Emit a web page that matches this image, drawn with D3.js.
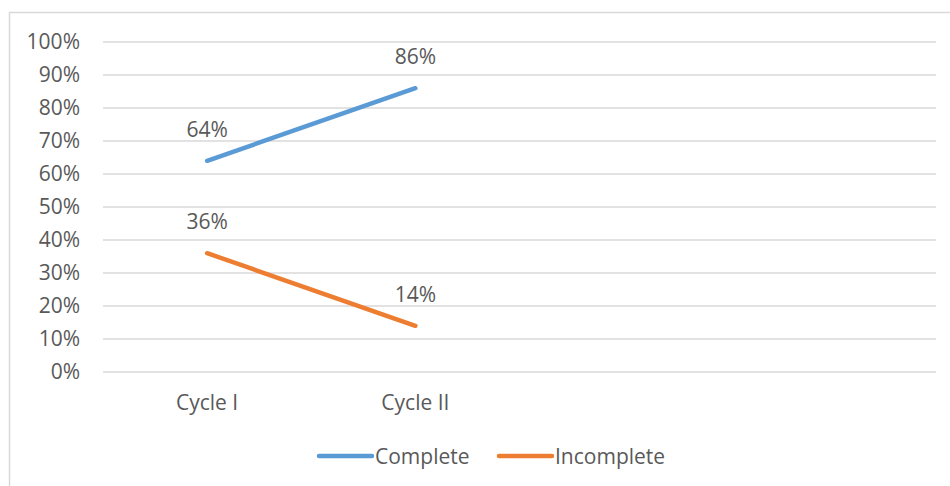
<!DOCTYPE html>
<html>
<head>
<meta charset="utf-8">
<script src="https://cdn.jsdelivr.net/npm/d3@7"></script>
<style>
  html, body { margin: 0; padding: 0; background: #fff; }
  svg { display: block; font-family: "Open Sans", sans-serif; }
</style>
</head>
<body>
<svg id="chart" width="950" height="486"></svg>
<script>
// Category slots along the x axis (the last two are empty)
const categories = ["Cycle I", "Cycle II", "", " "];
// Share of cases per cycle
const completeValues = [0.64, 0.86];
const incompleteValues = [0.36, 0.14];
const seriesNames = ["Complete", "Incomplete"];
const seriesColors = ["#5B9BD5", "#ED7D31"];
const yTicks = [0, 0.1, 0.2, 0.3, 0.4, 0.5, 0.6, 0.7, 0.8, 0.9, 1.0];

const series = [
  { name: seriesNames[0], color: seriesColors[0], values: completeValues },
  { name: seriesNames[1], color: seriesColors[1], values: incompleteValues }
];

const svg = d3.select("#chart");
const textColor = "#595959";
const fontSize = 21;

// Chart frame
svg.append("rect")
  .attr("x", 9.5).attr("y", 12.5)
  .attr("width", 960).attr("height", 500)
  .attr("fill", "#fff")
  .attr("stroke", "#D9D9D9").attr("stroke-width", 1.5);

const plot = { left: 103, right: 936, top: 42, bottom: 372 };

const x = d3.scaleBand()
  .domain(categories)
  .range([plot.left, plot.right]);

const y = d3.scaleLinear()
  .domain([0, 1])
  .range([plot.bottom, plot.top]);

// Horizontal gridlines
svg.append("g")
  .selectAll("line")
  .data(yTicks)
  .join("line")
  .attr("x1", plot.left).attr("x2", plot.right)
  .attr("y1", d => y(d)).attr("y2", d => y(d))
  .attr("stroke", "#D9D9D9").attr("stroke-width", 1.5);

// Y axis labels
const yAxis = d3.axisLeft(y)
  .tickValues(yTicks)
  .tickFormat(d3.format(".0%"))
  .tickSize(0)
  .tickPadding(0);

const yg = svg.append("g")
  .attr("transform", `translate(${plot.left - 23},0)`)
  .call(yAxis);
yg.select(".domain").remove();
yg.selectAll("text")
  .attr("fill", textColor)
  .style("font-size", fontSize + "px")
  .style("font-family", "Open Sans, sans-serif");

// X axis labels
const xAxis = d3.axisBottom(x).tickSize(0).tickPadding(0);
const xg = svg.append("g")
  .attr("transform", `translate(0,${plot.bottom + 23})`)
  .call(xAxis);
xg.select(".domain").remove();
xg.selectAll("text")
  .attr("fill", textColor)
  .style("font-size", fontSize + "px")
  .style("font-family", "Open Sans, sans-serif");

const cx = i => x(categories[i]) + x.bandwidth() / 2;

const line = d3.line()
  .x((d, i) => cx(i))
  .y(d => y(d));

// Series lines
svg.append("g")
  .selectAll("path")
  .data(series)
  .join("path")
  .attr("d", d => line(d.values))
  .attr("fill", "none")
  .attr("stroke", d => d.color)
  .attr("stroke-width", 4.5)
  .attr("stroke-linecap", "round")
  .attr("stroke-linejoin", "round");

// Value labels above each point
const fmt = d3.format(".0%");
series.forEach(s => {
  svg.append("g")
    .selectAll("text")
    .data(s.values)
    .join("text")
    .attr("x", (d, i) => cx(i))
    .attr("y", d => y(d) - 32)
    .attr("text-anchor", "middle")
    .attr("dominant-baseline", "central")
    .attr("fill", textColor)
    .style("font-size", fontSize + "px")
    .text(d => fmt(d));
});

// Legend
const legendY = 456;
const legendItems = [
  { s: series[0], x0: 317 },
  { s: series[1], x0: 497 }
];
const lg = svg.append("g");
legendItems.forEach(item => {
  lg.append("line")
    .attr("x1", item.x0 + 2).attr("x2", item.x0 + 55)
    .attr("y1", legendY).attr("y2", legendY)
    .attr("stroke", item.s.color)
    .attr("stroke-width", 4.5)
    .attr("stroke-linecap", "round");
  lg.append("text")
    .attr("x", item.x0 + 58)
    .attr("y", legendY)
    .attr("dominant-baseline", "central")
    .attr("fill", textColor)
    .style("font-size", fontSize + "px")
    .text(item.s.name);
});
</script>
</body>
</html>
